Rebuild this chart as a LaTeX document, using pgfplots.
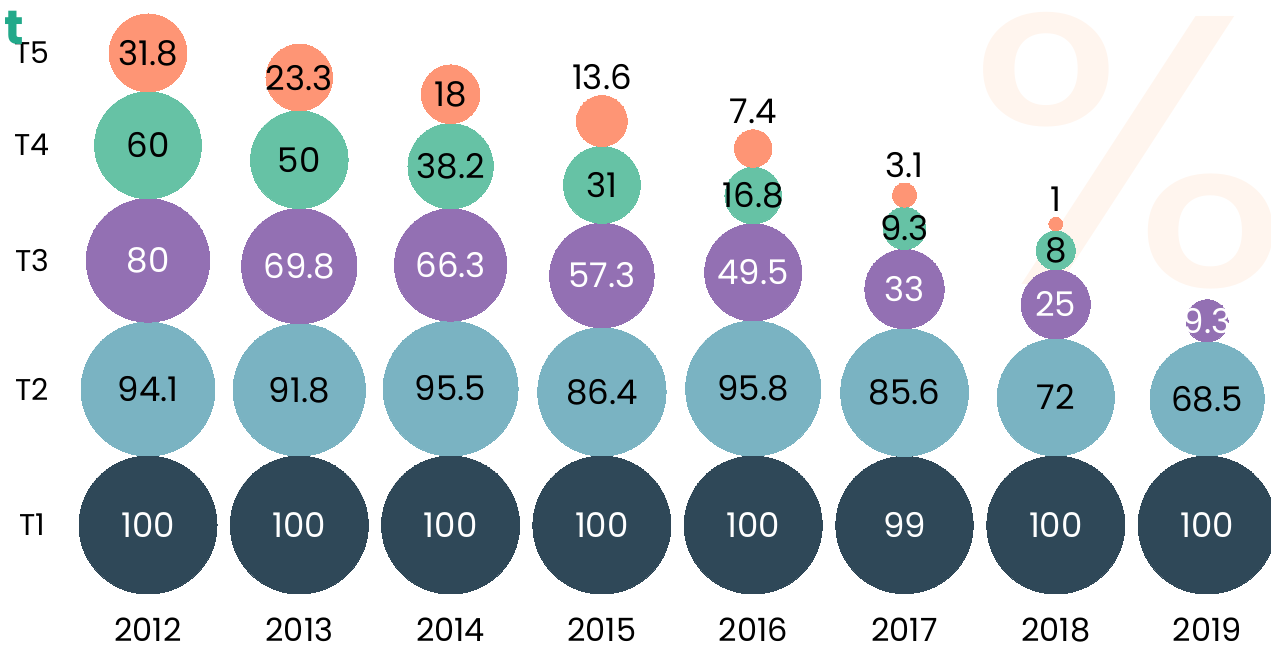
\documentclass[border=0pt]{standalone}
\usepackage{pgfplots}
\pgfplotsset{compat=1.18}
\usepackage{pgfplotstable}
\usepackage{fontspec}
\setmainfont{Poppins}

\definecolor{cT1}{HTML}{2F4858}
\definecolor{cT2}{HTML}{7AB3C2}
\definecolor{cT3}{HTML}{9370B3}
\definecolor{cT4}{HTML}{66C2A5}
\definecolor{cT5}{HTML}{FE9575}
\definecolor{pct}{HTML}{FFF5EE}
\definecolor{ttl}{HTML}{22A98A}

% share per tier and year (2019 has no T4/T5)
\pgfplotstableread{
year t1  t2   t3   t4   t5
2012 100 94.1 80   60   31.8
2013 100 91.8 69.8 50   23.3
2014 100 95.5 66.3 38.2 18
2015 100 86.4 57.3 31   13.6
2016 100 95.8 49.5 16.8 7.4
2017 99  85.6 33   9.3  3.1
2018 100 72   25   8    1
2019 100 68.5 9.3  0    0
}\tiers

% circle area ~ value, radius of 100 = 34.5pt (one y unit)
\pgfplotsset{
  bubble/.style n args={3}{
    scatter, only marks, mark=*, color=#1,
    mark options={line width=0pt},
    point meta=explicit,
    nodes near coords={\pgfmathprintnumber[assume math mode=true]{\pgfplotspointmeta}},
    nodes near coords align=center,
    every node near coord/.append style={text=#3, inner sep=0pt,
      font=\fontsize{17}{17}\selectfont},
    visualization depends on={sqrt(\thisrow{#2}/100)*34.5 \as \rad},
    scatter/@pre marker code/.append style={/tikz/mark size=\rad},
  },
}

\begin{document}
\begin{tikzpicture}
\begin{axis}[
    x=75.65pt, y=34.5pt,
    xmin=2011.2333, xmax=2019.4223,
    ymin=-1.5217, ymax=7.6087,
    clip=false,
    axis line style={draw=none},
    major tick length=0pt,
    xtick={2012,2013,2014,2015,2016,2017,2018,2019},
    xticklabels={2012,2013,2014,2015,2016,2017,2018,2019},
    ytick={0,1.97005,3.83453,5.50356,6.84207},
    yticklabels={T1,T2,T3,T4,T5},
    xticklabel style={anchor=center, font=\fontsize{16}{16}\selectfont},
    yticklabel style={anchor=center, font=\fontsize{15}{15}\selectfont},
]
\node[text=pct, inner sep=0pt, xscale=1.12, font=\fontsize{192}{192}\selectfont]
  at (axis cs:2018.48,5.43) {\%};
\node[text=ttl, inner sep=0pt, font=\bfseries\fontsize{24}{24}\selectfont]
  at (axis cs:2011.115,7.203) {t};

\addplot[bubble={cT1}{t1}{white}]
  table[x=year, y expr=0, meta=t1] {\tiers};
\addplot[bubble={cT2}{t2}{black}]
  table[x=year, y expr={sqrt(\thisrow{t1}/100)+sqrt(\thisrow{t2}/100)}, meta=t2] {\tiers};
\addplot[bubble={cT3}{t3}{white}]
  table[x=year, y expr={sqrt(\thisrow{t1}/100)+2*sqrt(\thisrow{t2}/100)+sqrt(\thisrow{t3}/100)}, meta=t3] {\tiers};
\addplot[bubble={cT4}{t4}{black}, skip coords between index={7}{8}]
  table[x=year, y expr={sqrt(\thisrow{t1}/100)+2*sqrt(\thisrow{t2}/100)+2*sqrt(\thisrow{t3}/100)+sqrt(\thisrow{t4}/100)}, meta=t4] {\tiers};
\addplot[bubble={cT5}{t5}{black}, skip coords between index={7}{8},
    visualization depends on={(\thisrow{t5}<15 ? sqrt(\thisrow{t5}/100)*34.5+9 : 0) \as \lift},
    every node near coord/.append style={yshift=\lift}]
  table[x=year, y expr={sqrt(\thisrow{t1}/100)+2*sqrt(\thisrow{t2}/100)+2*sqrt(\thisrow{t3}/100)+2*sqrt(\thisrow{t4}/100)+sqrt(\thisrow{t5}/100)}, meta=t5] {\tiers};

\coordinate (ll) at (axis cs:2011.0218,-1.7536);
\coordinate (ur) at (axis cs:2019.4223,7.6087);
\end{axis}
\pgfresetboundingbox
\useasboundingbox (ll) rectangle (ur);
\end{tikzpicture}
\end{document}
